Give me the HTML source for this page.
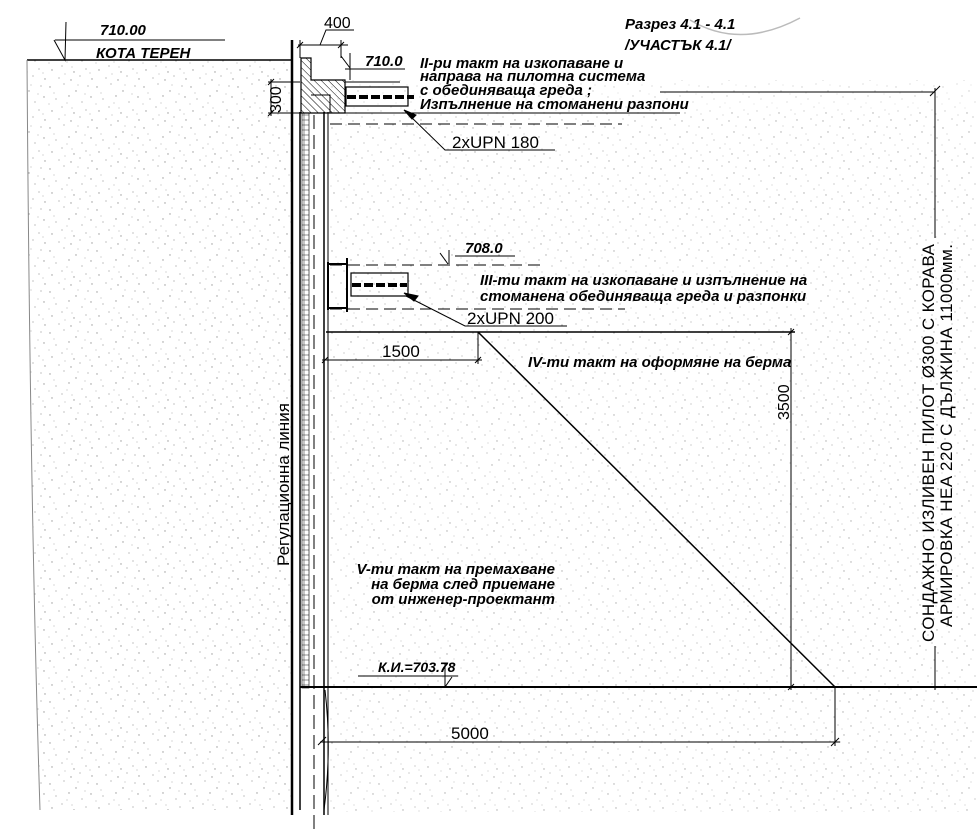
<!DOCTYPE html>
<html><head><meta charset="utf-8"><style>
html,body{margin:0;padding:0;background:#fff}
svg{display:block}
text{font-family:"Liberation Sans",sans-serif;fill:#000}
.b{font-weight:bold;font-style:italic}
</style></head><body>
<svg width="977" height="837" viewBox="0 0 977 837" xmlns="http://www.w3.org/2000/svg">
<defs>
<pattern id="st" width="47" height="41" patternUnits="userSpaceOnUse">
<g fill="#999">
<circle cx="3" cy="5" r="0.7"/><circle cx="17" cy="2" r="0.6"/><circle cx="29" cy="9" r="0.7"/><circle cx="41" cy="4" r="0.6"/>
<circle cx="9" cy="17" r="0.6"/><circle cx="22" cy="14" r="0.7"/><circle cx="35" cy="20" r="0.6"/><circle cx="44" cy="15" r="0.7"/>
<circle cx="5" cy="29" r="0.7"/><circle cx="15" cy="25" r="0.6"/><circle cx="27" cy="31" r="0.7"/><circle cx="39" cy="28" r="0.6"/>
<circle cx="12" cy="37" r="0.6"/><circle cx="24" cy="39" r="0.7"/><circle cx="33" cy="35" r="0.6"/><circle cx="45" cy="38" r="0.7"/>
<circle cx="7" cy="11" r="0.5"/><circle cx="20" cy="21" r="0.5"/><circle cx="31" cy="3" r="0.5"/><circle cx="38" cy="12" r="0.5"/>
<circle cx="2" cy="22" r="0.5"/><circle cx="25" cy="26" r="0.5"/><circle cx="43" cy="32" r="0.5"/><circle cx="18" cy="33" r="0.5"/>
</g></pattern>
<pattern id="hat" width="5" height="5" patternUnits="userSpaceOnUse" patternTransform="rotate(-45)">
<line x1="0" y1="0" x2="0" y2="5" stroke="#000" stroke-width="1"/></pattern>
<pattern id="grid" width="8" height="5" patternUnits="userSpaceOnUse">
<rect width="8" height="5" fill="#fff" stroke="#444" stroke-width="0.6"/></pattern>
</defs>
<path d="M27,60 L292,60 L292,810 L40,810 Q30,500 27,60Z" fill="url(#st)"/>
<rect x="330" y="112" width="647" height="700" fill="url(#st)" opacity="0.8"/>
<path d="M330,80 L977,80 L977,112 L330,112Z" fill="url(#st)" opacity="0.5"/>
<path d="M690,20 Q740,50 800,18" fill="none" stroke="#bbb" stroke-width="1.5"/>
<g stroke="#000" fill="none">
<line x1="27" y1="60" x2="292" y2="60" stroke-width="1.5"/>
<path d="M27,60 Q30,500 40,810" stroke="#888"/>
<line x1="55" y1="40" x2="225" y2="40"/>
<path d="M54,40 L65,60 L66,22" />
<line x1="292" y1="40" x2="292" y2="815" stroke-width="2.5"/>
<line x1="300" y1="112" x2="300" y2="810" stroke-width="1.5"/>
<rect x="302" y="113" width="7" height="575" fill="url(#grid)" stroke-width="0.6"/>
<line x1="314" y1="115" x2="314" y2="830" stroke-dasharray="14,6"/>
<line x1="324" y1="112" x2="324" y2="815" stroke-width="1.5"/>
<line x1="328" y1="112" x2="328" y2="815"/>
<path d="M301,58 L311,58 L311,80 L345,80 L345,113 L301,113Z" fill="url(#hat)" stroke-width="1.2"/>
<path d="M311,95 L330,95 L330,113" />
<line x1="298" y1="45" x2="348" y2="45"/>
<line x1="300" y1="40" x2="300" y2="58"/><line x1="341" y1="40" x2="341" y2="58"/>
<line x1="297" y1="48" x2="303" y2="42"/><line x1="338" y1="48" x2="344" y2="42"/>
<path d="M320,45 L326,30 L354,30"/>
<line x1="271" y1="79" x2="271" y2="116"/>
<line x1="268" y1="82" x2="300" y2="82"/><line x1="268" y1="113" x2="300" y2="113"/>
<line x1="268" y1="85" x2="274" y2="79"/><line x1="268" y1="116" x2="274" y2="110"/>
<line x1="345" y1="69" x2="405" y2="69"/>
<path d="M341,56 L350,68" />
<line x1="350" y1="53" x2="350" y2="80"/>
<line x1="345" y1="82" x2="400" y2="82"/>
<rect x="346" y="87" width="62" height="19" stroke-width="1.2"/>
<line x1="347" y1="97" x2="414" y2="97" stroke-width="4" stroke-dasharray="9,3"/>
<line x1="330" y1="113" x2="680" y2="113"/>
<line x1="330" y1="124" x2="622" y2="124" stroke-dasharray="12,6"/>
<line x1="660" y1="92" x2="935" y2="92"/>
<line x1="935" y1="88" x2="935" y2="238"/>
<line x1="930" y1="96" x2="940" y2="86"/>
<line x1="935" y1="646" x2="935" y2="690"/>
<path d="M407,113 L445,150 L555,150"/>
<path d="M404,110 L416,115 L412,119Z" fill="#000"/>
<line x1="455" y1="256" x2="515" y2="256"/>
<line x1="449" y1="250" x2="449" y2="264"/>
<path d="M440,253 L448,264"/>
<line x1="330" y1="265" x2="545" y2="265" stroke-dasharray="12,6"/>
<line x1="330" y1="309" x2="625" y2="309" stroke-dasharray="12,6"/>
<line x1="328" y1="262" x2="328" y2="310" stroke-width="2"/>
<line x1="347" y1="258" x2="347" y2="312" stroke-width="2"/>
<line x1="328" y1="264" x2="347" y2="264" stroke-width="2"/>
<line x1="328" y1="308" x2="347" y2="308" stroke-width="2"/>
<rect x="351" y="273" width="57" height="23" stroke-width="1.2"/>
<line x1="352" y1="285" x2="407" y2="285" stroke-width="4" stroke-dasharray="9,3"/>
<path d="M406,296 L465,326 L567,326"/>
<path d="M404,293 L418,296 L414,301Z" fill="#000"/>
<line x1="326" y1="332" x2="795" y2="332" stroke-width="1.5"/>
<line x1="478" y1="332" x2="835" y2="687" stroke-width="1.5"/>
<line x1="322" y1="360" x2="482" y2="360"/>
<line x1="478" y1="332" x2="478" y2="364"/>
<line x1="322" y1="363" x2="328" y2="357"/><line x1="475" y1="363" x2="481" y2="357"/>
<line x1="791" y1="328" x2="791" y2="690"/>
<line x1="788" y1="335" x2="794" y2="329"/><line x1="788" y1="690" x2="794" y2="684"/>
<line x1="300" y1="687" x2="977" y2="687" stroke-width="2"/>
<line x1="358" y1="676" x2="458" y2="676"/>
<line x1="445" y1="663" x2="445" y2="687"/>
<path d="M445,687 L452,677"/>
<line x1="320" y1="742" x2="840" y2="742"/>
<line x1="835" y1="687" x2="835" y2="746"/>
<line x1="318" y1="745" x2="326" y2="737"/><line x1="831" y1="746" x2="839" y2="738"/>
<path d="M325,690 Q332,750 324,810"/>
</g>
<text x="100" y="35" class="b" font-size="15">710.00</text>
<text x="96" y="58" class="b" font-size="15">КОТА ТЕРЕН</text>
<text x="324" y="28" font-size="16">400</text>
<text x="281" y="113" font-size="16" transform="rotate(-90 281 113)">300</text>
<text x="365" y="66" class="b" font-size="15">710.0</text>
<text x="420" y="68" class="b" font-size="15">II-ри такт на изкопаване и</text>
<text x="420" y="81" class="b" font-size="15">направа на пилотна система</text>
<text x="420" y="95" class="b" font-size="15">с обединяваща греда ;</text>
<text x="420" y="109" class="b" font-size="15">Изпълнение на стоманени разпони</text>
<text x="625" y="29" class="b" font-size="15">Разрез 4.1 - 4.1</text>
<text x="625" y="50" class="b" font-size="15">/УЧАСТЪК 4.1/</text>
<text x="452" y="148" font-size="17">2xUPN 180</text>
<text x="465" y="253" class="b" font-size="15">708.0</text>
<text x="480" y="285" class="b" font-size="15">III-ти такт на изкопаване и изпълнение на</text>
<text x="480" y="301" class="b" font-size="15">стоманена обединяваща греда и разпонки</text>
<text x="467" y="324" font-size="17">2xUPN 200</text>
<text x="382" y="357" font-size="17">1500</text>
<text x="528" y="367" class="b" font-size="15">IV-ти такт на оформяне на берма</text>
<text x="789" y="420" font-size="16" transform="rotate(-90 789 420)">3500</text>
<text x="289" y="566" font-size="17" transform="rotate(-90 289 566)">Регулационна линия</text>
<text x="555" y="574" class="b" font-size="15" text-anchor="end">V-ти такт на премахване</text>
<text x="555" y="589" class="b" font-size="15" text-anchor="end">на берма след приемане</text>
<text x="555" y="604" class="b" font-size="15" text-anchor="end">от инженер-проектант</text>
<text x="378" y="672" class="b" font-size="14">К.И.=703.78</text>
<text x="451" y="739" font-size="17">5000</text>
<text x="934" y="642" font-size="17" transform="rotate(-90 934 642)" textLength="398">СОНДАЖНО ИЗЛИВЕН ПИЛОТ Ø300 С КОРАВА</text>
<text x="952" y="627" font-size="17" transform="rotate(-90 952 627)" textLength="383">АРМИРОВКА HEA 220 С ДЪЛЖИНА  11000мм.</text>
</svg>
</body></html>
